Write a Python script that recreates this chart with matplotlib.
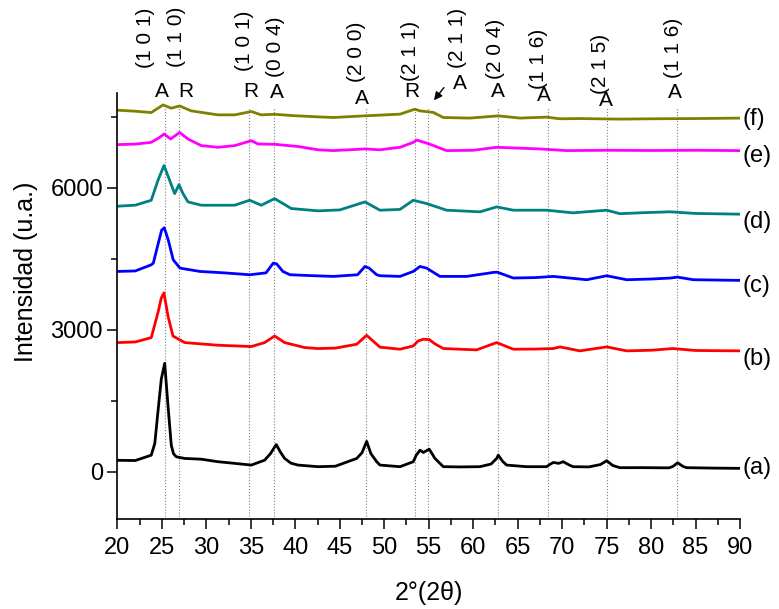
import numpy as np
import matplotlib
matplotlib.use("Agg")
import matplotlib.pyplot as plt
from matplotlib.ticker import MultipleLocator

plt.rcParams['font.family'] = ['Liberation Sans', 'DejaVu Sans']

# 2theta (deg) / intensity (a.u.) for each sample, offset already included
tt_a = [20.0, 22.0, 23.8, 24.2, 24.55, 24.93, 25.31, 25.68, 25.9, 26.05, 26.3, 26.61, 27.56, 29.4, 31.3,
        33.2, 35.05, 36.55, 37.2, 37.86, 38.3, 38.8, 39.5, 40.3, 42.55, 44.5, 46.9, 47.5, 48.02, 48.5,
        49.15, 49.52, 51.77, 53.26, 53.6, 54.02, 54.39, 55.06, 55.7, 56.64, 58.5, 60.76, 62.0, 62.64,
        62.82, 63.3, 63.76, 66.0, 68.26, 68.6, 69.01, 69.6, 70.13, 70.7, 71.22, 73.0, 74.3, 75.01, 75.7,
        76.5, 79.0, 82.0, 82.46, 82.99, 83.6, 84.01, 87.0, 90.0]
int_a = [240, 235, 348, 600, 1265, 1957, 2290, 1397, 900, 558, 380, 314, 279, 264, 210,
         175, 139, 243, 380, 573, 420, 279, 180, 139, 105, 115, 279, 400, 640, 380,
         210, 139, 105, 210, 350, 454, 405, 475, 279, 105, 100, 105, 160, 279,
         349, 220, 139, 105, 105, 150, 195, 175, 210, 150, 105, 100, 150, 230, 130,
         84, 85, 80, 110, 188, 110, 84, 75, 70]

tt_b = [20.0, 22.0, 23.8, 24.55, 24.93, 25.23, 25.68, 26.24, 27.56, 31.3, 35.05, 36.55, 37.67, 38.8,
        41.05, 42.55, 44.5, 46.9, 48.02, 49.52, 51.77, 53.26, 53.8, 54.39, 55.06, 55.7, 56.64, 60.39,
        62.64, 64.51, 67.0, 69.01, 69.76, 72.0, 75.01, 77.26, 80.0, 82.46, 85.0, 90.0]
int_b = [2727, 2740, 2832, 3357, 3671, 3776, 3286, 2866, 2727, 2671, 2643, 2727, 2866, 2727,
         2622, 2601, 2610, 2692, 2880, 2630, 2587, 2656, 2760, 2797, 2790, 2700, 2601, 2573,
         2727, 2587, 2590, 2601, 2636, 2552, 2636, 2552, 2565, 2601, 2560, 2552]

tt_c = [20.0, 22.0, 23.8, 24.03, 24.59, 24.97, 25.26, 25.71, 26.27, 27.03, 29.28, 32.0, 34.9, 36.7,
        37.52, 37.9, 38.6, 39.4, 42.0, 44.27, 47.0, 47.83, 48.3, 49.15, 49.52, 51.77, 53.26, 54.02,
        54.77, 56.26, 59.27, 62.26, 62.7, 64.51, 67.0, 69.01, 72.76, 75.01, 77.26, 80.0, 82.13, 82.99,
        84.75, 90.0]
int_c = [4230, 4240, 4370, 4406, 4826, 5104, 5153, 4895, 4475, 4300, 4230, 4200, 4160, 4200,
         4406, 4390, 4230, 4160, 4140, 4125, 4160, 4335, 4300, 4160, 4139, 4125, 4230, 4335,
         4300, 4125, 4125, 4209, 4215, 4091, 4100, 4125, 4055, 4139, 4055, 4070, 4090, 4110,
         4055, 4041]

tt_d = [20.0, 22.0, 23.8, 24.55, 25.23, 25.87, 26.43, 26.92, 27.37, 27.93, 29.43, 33.18, 34.86, 36.17,
        37.67, 39.55, 42.55, 45.0, 47.83, 49.52, 51.77, 53.26, 54.77, 57.0, 60.76, 62.64, 64.51,
        68.26, 71.22, 75.01, 76.5, 79.0, 82.13, 85.0, 90.0]
int_d = [5608, 5630, 5734, 6153, 6468, 6153, 5874, 6063, 5874, 5699, 5629, 5629, 5734, 5629,
         5769, 5559, 5510, 5530, 5699, 5524, 5540, 5734, 5664, 5524, 5489, 5594, 5524,
         5524, 5468, 5524, 5450, 5470, 5490, 5455, 5440]

tt_e = [20.0, 22.0, 23.8, 24.74, 25.23, 25.98, 26.99, 27.93, 29.43, 31.3, 33.18, 35.05, 35.8, 37.67,
        40.3, 42.55, 44.27, 47.83, 49.52, 51.77, 53.26, 53.64, 55.06, 57.0, 60.0, 62.64, 67.5,
        70.5, 75.0, 80.0, 85.0, 90.0]
int_e = [6909, 6920, 6957, 7062, 7133, 7028, 7167, 7028, 6888, 6853, 6888, 6993, 6923, 6916,
         6870, 6800, 6783, 6818, 6800, 6853, 6957, 7007, 6923, 6783, 6790, 6853, 6818,
         6783, 6790, 6785, 6790, 6783]

tt_f = [20.0, 22.0, 23.8, 25.12, 26.05, 26.99, 28.3, 31.3, 33.18, 35.05, 36.17, 37.67, 39.92, 42.55,
        44.27, 47.76, 51.77, 53.45, 54.02, 55.51, 56.64, 59.64, 62.82, 65.26, 68.26, 69.76, 72.0,
        76.5, 80.0, 85.0, 89.63, 90.0]
int_f = [7637, 7615, 7587, 7748, 7679, 7727, 7622, 7538, 7538, 7608, 7538, 7550, 7520, 7496,
         7482, 7517, 7553, 7658, 7622, 7590, 7482, 7470, 7517, 7470, 7490, 7455, 7460,
         7448, 7455, 7460, 7469, 7469]

series = [(tt_a, int_a, 'black', '(a)', 70),
          (tt_b, int_b, 'red', '(b)', 2378),
          (tt_c, int_c, 'blue', '(c)', 3915),
          (tt_d, int_d, '#008080', '(d)', 5279),
          (tt_e, int_e, 'magenta', '(e)', 6678),
          (tt_f, int_f, '#808000', '(f)', 7448)]

# reflection positions, phase (A = anatase, R = rutile) and hkl
peak_pos = [25.4, 26.95, 34.8, 37.6, 48.0, 53.45, 54.9, 62.75, 68.4, 75.0, 82.95]
peak_phase = ['A', 'R', 'R', 'A', 'A', 'R', 'A', 'A', 'A', 'A', 'A']
peak_hkl = ['(1 0 1)', '(1 1 0)', '(1 0 1)', '(0 0 4)', '(2 0 0)', '(2 1 1)', '(2 1 1)',
            '(2 0 4)', '(1 1 6)', '(2 1 5)', '(1 1 6)']
phase_xy = [(24.97, 8042), (27.7, 8042), (35.05, 8042), (37.9, 8000), (47.5, 7874), (53.1, 8042),
            (58.5, 8200), (62.8, 8042), (68.0, 7937), (74.9, 7832), (82.7, 8000)]
hkl_xy = [(23.2, 9175), (26.6, 9195), (34.3, 9110), (37.8, 8985), (46.9, 8860), (52.9, 8880),
          (58.2, 9160), (62.5, 8935), (67.4, 8725), (74.3, 8620), (82.5, 8950)]

fig = plt.figure(figsize=(7.79, 6.09), dpi=100)
ax = fig.add_axes([0.1508, 0.1478, 0.7991, 0.6995])

for pos in peak_pos:
    ax.plot([pos, pos], [-1000, 7700], color='gray', ls=':', lw=0.8, zorder=1)

for tt, inten, col, lab, ylab in series:
    ax.plot(tt, inten, color=col, lw=2.0, zorder=2)
    ax.text(90.3, ylab, lab, fontsize=17, ha='left', va='center', clip_on=False)

for i in range(len(peak_pos)):
    ax.text(phase_xy[i][0], phase_xy[i][1], peak_phase[i], fontsize=15,
            ha='center', va='center', clip_on=False)
    ax.text(hkl_xy[i][0], hkl_xy[i][1], peak_hkl[i], fontsize=15, rotation=90,
            ha='center', va='center', clip_on=False)

ax.annotate('', xy=(55.4, 7800), xytext=(56.9, 8160),
            arrowprops=dict(arrowstyle='-|>', color='black', lw=1, mutation_scale=12),
            annotation_clip=False)

ax.set_xlim(20, 90)
ax.set_ylim(-1000, 8000)
ax.xaxis.set_major_locator(MultipleLocator(5))
ax.xaxis.set_minor_locator(MultipleLocator(2.5))
ax.set_yticks([0, 3000, 6000])
ax.yaxis.set_minor_locator(MultipleLocator(1500))
ax.tick_params(which='major', direction='out', length=7, width=1.1, labelsize=17)
ax.tick_params(axis='x', which='major', pad=6)
ax.tick_params(which='minor', direction='out', length=4, width=1.1)

for side in ['top', 'right']:
    ax.spines[side].set_visible(False)
for side in ['left', 'bottom']:
    ax.spines[side].set_linewidth(1.2)

ax.set_xlabel('2°(2θ)', fontsize=18)
ax.set_ylabel('Intensidad (u.a.)', fontsize=18)
ax.xaxis.set_label_coords(0.5, -0.145)
ax.yaxis.set_label_coords(-0.127, 0.58)

fig.savefig('out.png', dpi=100)
